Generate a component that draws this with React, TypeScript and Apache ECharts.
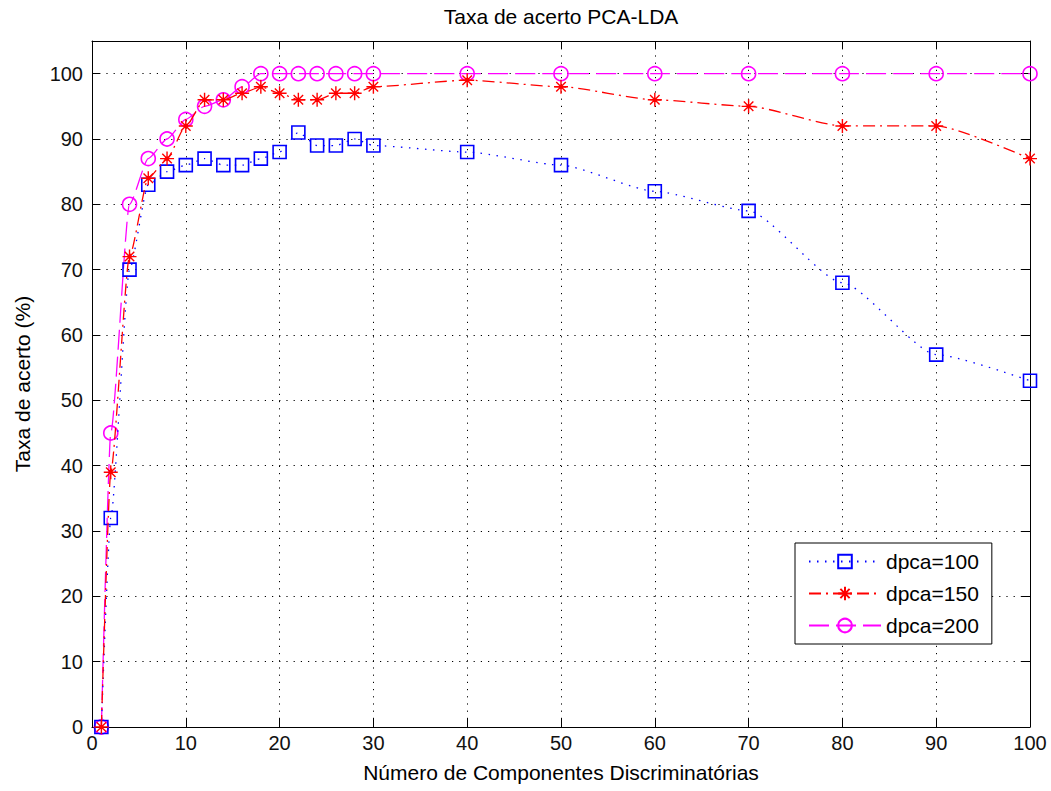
import React, { useEffect, useRef } from "react";
import * as echarts from "echarts";

const xValues = [1, 2, 4, 6, 8, 10, 12, 14, 16, 18, 20, 22, 24, 26, 28, 30, 40, 50, 60, 70, 80, 90, 100];
const dpca100 = [0, 32, 70, 83, 85, 86, 87, 86, 86, 87, 88, 91, 89, 89, 90, 89, 88, 86, 82, 79, 68, 57, 53];
const dpca150 = [0, 39, 72, 84, 87, 92, 96, 96, 97, 98, 97, 96, 96, 97, 97, 98, 99, 98, 96, 95, 92, 92, 87];
const dpca200 = [0, 45, 80, 87, 90, 93, 95, 96, 98, 100, 100, 100, 100, 100, 100, 100, 100, 100, 100, 100, 100, 100, 100];
const seriesNames = ["dpca=100", "dpca=150", "dpca=200"];

const titleText = "Taxa de acerto PCA-LDA";
const xName = "Número de Componentes Discriminatórias";
const yName = "Taxa de acerto (%)";

const FONT = "Liberation Sans, Arial, Helvetica, sans-serif";
const STAR =
  "path://M5,0 L5,10 M0,5 L10,5 M1.6,1.6 L8.4,8.4 M1.6,8.4 L8.4,1.6 M4,4 L6,4 L6,6 L4,6 Z";

const pairs = (ys: number[]) => xValues.map((x, i) => [x, ys[i]]);

export default function App() {
  const ref = useRef<HTMLDivElement>(null);
  useEffect(() => {
    if (!ref.current) return;
    const chart = echarts.init(ref.current, null, { renderer: "svg" });
    const gridLine = { show: true, lineStyle: { color: "#000", width: 1, type: [1.2, 6] as any } };
    const baseX = {
      type: "value" as const,
      min: 0,
      max: 100,
      interval: 10,
    };
    const baseY = {
      type: "value" as const,
      min: 0,
      max: 105,
      interval: 10,
    };
    chart.setOption({
      animation: false,
      backgroundColor: "#fff",
      textStyle: { fontFamily: FONT },
      title: {
        text: titleText,
        left: 561,
        top: 6,
        textAlign: "center",
        padding: 0,
        textStyle: { fontFamily: FONT, fontSize: 21, fontWeight: "normal", color: "#000" },
      },
      grid: { left: 92, right: 21, top: 41, bottom: 64, containLabel: false },
      xAxis: [
        {
          ...baseX,
          position: "bottom",
          name: xName,
          nameLocation: "middle",
          nameGap: 35,
          nameTextStyle: { fontFamily: FONT, fontSize: 21, color: "#000" },
          axisLine: { show: true, onZero: false, lineStyle: { color: "#000", width: 1 } },
          axisTick: { show: true, inside: true, length: 8, lineStyle: { color: "#000" } },
          axisLabel: { fontFamily: FONT, fontSize: 20, color: "#111", margin: 6 },
          splitLine: gridLine,
        },
        {
          ...baseX,
          position: "top",
          axisLine: { show: true, onZero: false, lineStyle: { color: "#000", width: 1 } },
          axisTick: { show: true, inside: true, length: 8, lineStyle: { color: "#000" } },
          axisLabel: { show: false },
          splitLine: { show: false },
        },
      ],
      yAxis: [
        {
          ...baseY,
          position: "left",
          name: yName,
          nameLocation: "middle",
          nameGap: 59,
          nameTextStyle: { fontFamily: FONT, fontSize: 21, color: "#000" },
          axisLine: { show: true, onZero: false, lineStyle: { color: "#000", width: 1 } },
          axisTick: { show: true, inside: true, length: 8, lineStyle: { color: "#000" } },
          axisLabel: { fontFamily: FONT, fontSize: 20, color: "#111", margin: 9, showMaxLabel: false },
          splitLine: gridLine,
        },
        {
          ...baseY,
          position: "right",
          axisLine: { show: true, onZero: false, lineStyle: { color: "#000", width: 1 } },
          axisTick: { show: true, inside: true, length: 8, lineStyle: { color: "#000" } },
          axisLabel: { show: false },
          splitLine: { show: false },
        },
      ],
      legend: {
        data: seriesNames,
        orient: "vertical",
        left: 795,
        top: 543,
        padding: [8, 13, 8, 13],
        itemWidth: 72,
        itemHeight: 17,
        itemGap: 11,
        backgroundColor: "#fff",
        borderColor: "#000",
        borderWidth: 1,
        borderRadius: 0,
        textStyle: { fontFamily: FONT, fontSize: 21, color: "#000" },
      },
      series: [
        {
          name: seriesNames[0],
          type: "line",
          data: pairs(dpca100),
          smooth: 0.2,
          smoothMonotone: "x",
          symbol: "rect",
          symbolSize: 13,
          lineStyle: { color: "#0000ff", width: 1.3, type: [1.5, 6.5] },
          itemStyle: { color: "rgba(0,0,0,0)", borderColor: "#0000ff", borderWidth: 1.6 },
          z: 3,
        },
        {
          name: seriesNames[1],
          type: "line",
          data: pairs(dpca150),
          smooth: 0.2,
          smoothMonotone: "x",
          symbol: STAR,
          symbolSize: 14,
          lineStyle: { color: "#ff0000", width: 1.3, type: [12, 5, 2, 5] },
          itemStyle: { color: "#ff0000", borderColor: "#ff0000", borderWidth: 1.4 },
          z: 4,
        },
        {
          name: seriesNames[2],
          type: "line",
          data: pairs(dpca200),
          smooth: 0.2,
          smoothMonotone: "x",
          symbol: "circle",
          symbolSize: 14,
          lineStyle: { color: "#ff00ff", width: 1.3, type: [20, 7] },
          itemStyle: { color: "rgba(0,0,0,0)", borderColor: "#ff00ff", borderWidth: 1.6 },
          z: 2,
        },
      ],
    });
    return () => chart.dispose();
  }, []);
  return (
    <div
      ref={ref}
      style={{ position: "absolute", left: 0, top: 0, width: 1051, height: 791, background: "#fff" }}
    />
  );
}
